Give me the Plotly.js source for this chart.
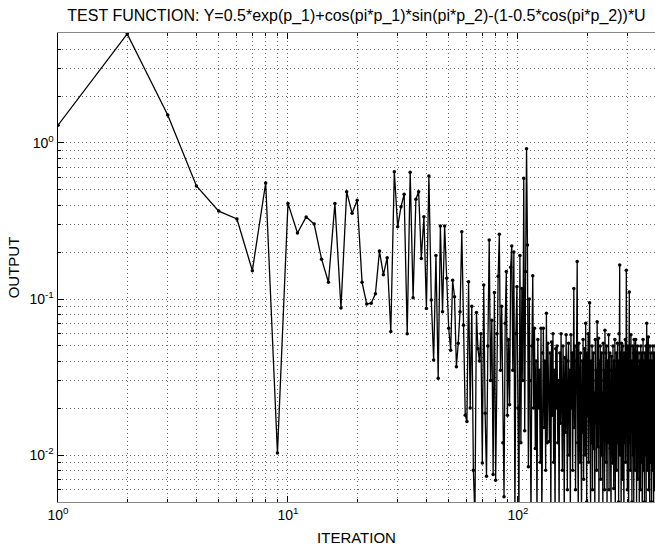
<!DOCTYPE html>
<html>
<head>
<meta charset="utf-8">
<script src="https://cdn.plot.ly/plotly-3.0.1.min.js"></script>
<style>html,body{margin:0;padding:0;background:#fff;}#chart{width:655px;height:546px;}</style>
</head>
<body>
<div id="chart"></div>
<script>
// Output value at each iteration (iteration = position in the list, starting at 1)
const output = [
  1.30, 5.0, 1.51, 0.53, 0.366, 0.326, 0.152, 0.554, 0.0103, 0.41,
  0.265, 0.336, 0.302, 0.18, 0.128, 0.41, 0.0875, 0.487, 0.355, 0.43,
  0.128, 0.093, 0.094, 0.108, 0.203, 0.143, 0.184, 0.062, 0.655, 0.29,
  0.39, 0.47, 0.06, 0.649, 0.102, 0.436, 0.487, 0.182, 0.337, 0.087,
  0.614, 0.0986, 0.0407, 0.19, 0.031, 0.294, 0.083, 0.294, 0.136, 0.065,
  0.047, 0.132, 0.1035, 0.0368, 0.052, 0.083, 0.27, 0.068, 0.018, 0.0164,
  0.129, 0.02, 0.09, 0.008, 0.004, 0.082, 0.048, 0.04, 0.06, 0.0089,
  0.123, 0.0185, 0.0073, 0.05, 0.239, 0.03, 0.073, 0.0075, 0.11, 0.0069,
  0.06, 0.14, 0.26, 0.035, 0.09, 0.012, 0.0054, 0.07, 0.15, 0.018,
  0.055, 0.021, 0.16, 0.219, 0.035, 0.2, 0.004, 0.06, 0.12, 0.02,
  0.004, 0.19, 0.012, 0.117, 0.03, 0.594, 0.0143, 0.15, 0.92, 0.222,
  0.0084, 0.1, 0.03, 0.004, 0.05, 0.141, 0.02, 0.065, 0.011, 0.04,
  0.004, 0.055, 0.02, 0.035, 0.009, 0.065, 0.004, 0.045, 0.065, 0.015,
  0.04, 0.008, 0.081, 0.012, 0.052, 0.025, 0.0122, 0.045, 0.004, 0.053,
  0.018, 0.06, 0.009, 0.035, 0.004, 0.048, 0.02, 0.05, 0.012, 0.03,
  0.004, 0.045, 0.016, 0.06, 0.025, 0.008, 0.05, 0.03, 0.004, 0.042,
  0.014, 0.059, 0.022, 0.006, 0.04, 0.052, 0.01, 0.035, 0.004, 0.059,
  0.02, 0.045, 0.008, 0.03, 0.117, 0.015, 0.05, 0.006, 0.04, 0.025,
  0.174, 0.012, 0.004, 0.052, 0.03, 0.009, 0.045, 0.02, 0.004, 0.04,
  0.014, 0.055, 0.007, 0.03, 0.048, 0.01, 0.07, 0.025, 0.005, 0.045,
  0.018, 0.06, 0.009, 0.035, 0.0946, 0.02, 0.004, 0.04, 0.012, 0.05,
  0.006, 0.03, 0.045, 0.011, 0.025, 0.004, 0.055, 0.016, 0.035, 0.008,
  0.0716, 0.02, 0.0113, 0.056, 0.004, 0.04, 0.018, 0.05, 0.007, 0.03,
  0.045, 0.01, 0.025, 0.004, 0.052, 0.015, 0.035, 0.006, 0.063, 0.02,
  0.045, 0.009, 0.05, 0.004, 0.03, 0.04, 0.012, 0.059, 0.006, 0.025,
  0.045, 0.011, 0.035, 0.004, 0.043, 0.016, 0.03, 0.0089, 0.05, 0.02,
  0.0061, 0.04, 0.015, 0.055, 0.004, 0.035, 0.02, 0.045, 0.008, 0.03,
  0.052, 0.012, 0.04, 0.005, 0.06, 0.018, 0.165, 0.01, 0.045, 0.025,
  0.004, 0.052, 0.014, 0.035, 0.007, 0.05, 0.02, 0.04, 0.004, 0.045,
  0.012, 0.03, 0.055, 0.009, 0.025, 0.153, 0.015, 0.04, 0.006, 0.05,
  0.02, 0.035, 0.004, 0.045, 0.111, 0.012, 0.05, 0.008, 0.03, 0.059,
  0.016, 0.04, 0.005, 0.035, 0.022, 0.05, 0.01, 0.045, 0.004, 0.055,
  0.018, 0.03, 0.008, 0.04, 0.055, 0.012, 0.035, 0.004, 0.045, 0.02,
  0.05, 0.007, 0.03, 0.037, 0.011, 0.045, 0.004, 0.04, 0.016, 0.03,
  0.006, 0.05, 0.02, 0.035, 0.009, 0.045, 0.004, 0.04, 0.014, 0.055,
  0.025, 0.008, 0.04, 0.03, 0.005, 0.045, 0.018, 0.035, 0.01, 0.05,
  0.004, 0.04, 0.07, 0.015, 0.03, 0.008, 0.045, 0.02, 0.057, 0.006,
  0.035, 0.012, 0.04, 0.004, 0.05, 0.018, 0.03, 0.009, 0.045, 0.025,
  0.005, 0.04, 0.015, 0.035, 0.008, 0.05, 0.02, 0.03, 0.004, 0.045,
  0.012, 0.04, 0.006, 0.035, 0.018, 0.05, 0.01, 0.03, 0.004, 0.04
];
const iteration = output.map((_, k) => k + 1);

const xTickVals = [1, 10, 100];
const xTickText = ['10<sup>0</sup>', '10<sup>1</sup>', '10<sup>2</sup>'];
const yTickVals = [0.01, 0.1, 1];
const yTickText = ['10<sup>-2</sup>', '10<sup>-1</sup>', '10<sup>0</sup>'];

const titleText = 'TEST FUNCTION: Y=0.5*exp(p_1)+cos(pi*p_1)*sin(pi*p_2)-(1-0.5*cos(pi*p_2))*U';

const FONT = 'Liberation Sans, Arial, Helvetica, sans-serif';
const gridStyle = {showgrid: true, gridcolor: '#6a6a6a', gridwidth: 1, griddash: '1px,3px'};

const trace = {
  x: iteration,
  y: output,
  type: 'scatter',
  mode: 'lines+markers',
  line: {color: '#000', width: 1.3},
  marker: {color: '#000', size: 3.5},
  hoverinfo: 'x+y'
};

const layout = {
  width: 655,
  height: 546,
  margin: {l: 58, r: 0, t: 33, b: 44},
  paper_bgcolor: '#fff',
  plot_bgcolor: '#fff',
  showlegend: false,
  font: {family: FONT, color: '#000', size: 14},
  title: {
    text: titleText,
    font: {family: FONT, size: 16, color: '#000'},
    x: 0.5, xref: 'paper', xanchor: 'center',
    y: 1 - 15 / 546, yref: 'container', yanchor: 'middle'
  },
  xaxis: Object.assign({
    type: 'log',
    range: [0, 2.596],
    tickmode: 'array',
    tickvals: xTickVals,
    ticktext: xTickText,
    ticks: 'inside', ticklen: 6, tickcolor: '#000', tickwidth: 1,
    showline: true, linecolor: '#888', linewidth: 1, mirror: 'ticks',
    zeroline: false,
    tickfont: {family: FONT, size: 14, color: '#000'},
    title: {text: 'ITERATION', font: {family: FONT, size: 15, color: '#000'}, standoff: 10},
    minor: Object.assign({tickmode: 'linear', dtick: 'D1', ticks: 'inside', ticklen: 3, tickcolor: '#000'}, gridStyle)
  }, gridStyle),
  yaxis: Object.assign({
    type: 'log',
    range: [Math.log10(0.005), Math.log10(5.07)],
    tickmode: 'array',
    tickvals: yTickVals,
    ticktext: yTickText,
    ticks: 'inside', ticklen: 6, tickcolor: '#000', tickwidth: 1,
    showline: true, linecolor: '#000', linewidth: 1.5,
    zeroline: false,
    tickfont: {family: FONT, size: 14, color: '#000'},
    title: {text: 'OUTPUT', font: {family: FONT, size: 15, color: '#000'}, standoff: 6},
    minor: Object.assign({tickmode: 'linear', dtick: 'D1', ticks: 'inside', ticklen: 3, tickcolor: '#000'}, gridStyle)
  }, gridStyle)
};

Plotly.newPlot('chart', [trace], layout, {displayModeBar: false, staticPlot: true});
</script>
</body>
</html>
